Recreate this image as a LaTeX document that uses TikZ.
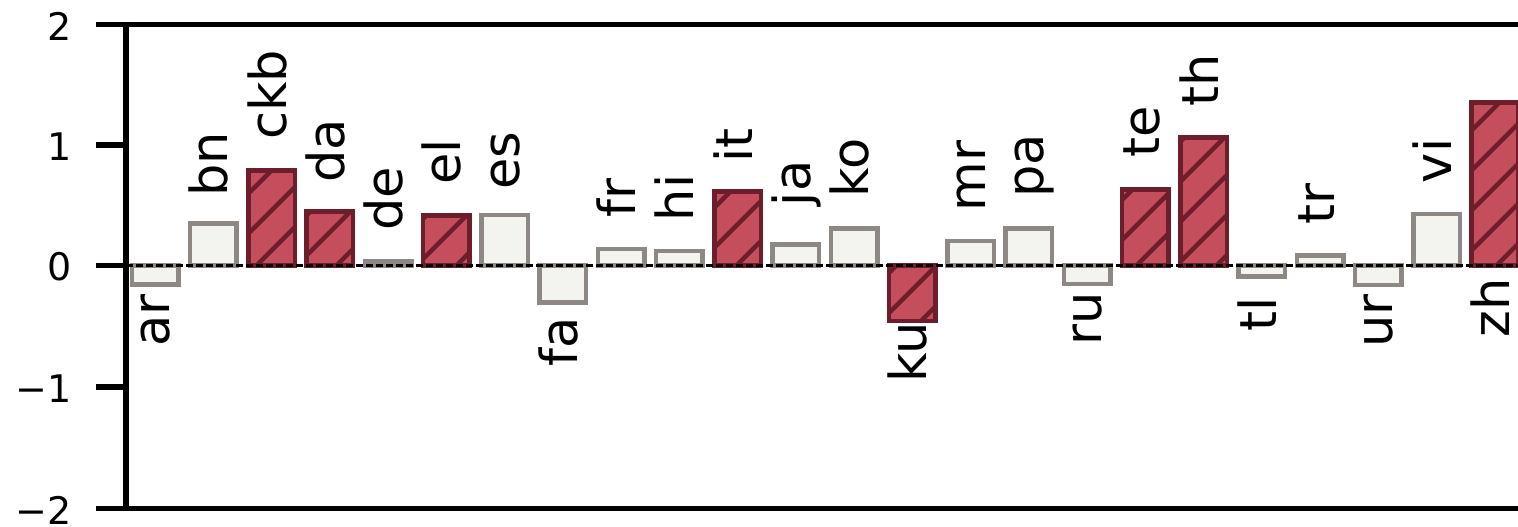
\documentclass[tikz,border=0pt]{standalone}
\usepackage{fontspec}
\setmainfont{DejaVu Sans}
\definecolor{redfill}{HTML}{C44E5C}
\definecolor{redline}{HTML}{6E1E2B}
\definecolor{lightfill}{HTML}{F3F4EF}
\definecolor{lightline}{HTML}{8D8883}
\newcommand\barx[1]{\pgfmathsetmacro\bcx{155+58.26*#1}}
\newcommand\lightbar[2]{\barx{#1}\draw[lightbarsty] (\bcx-23.25,265.5) rectangle (\bcx+23.25,#2);}
\newcommand\redbar[2]{\barx{#1}%
 \fill[redfillsty] (\bcx-23.25,265.5) rectangle (\bcx+23.25,#2);%
 \begin{scope}\clip (\bcx-23.25,265.5) rectangle (\bcx+23.25,#2);%
 \foreach \hc in {2,42,...,1882}{\draw[hatchsty] (\hc,0) -- (\hc-600,600);}%
 \end{scope}%
 \draw[rededgesty] (\bcx-23.25,265.5) rectangle (\bcx+23.25,#2);}
\newcommand\uplabel[3]{\barx{#1}\node[lbl,anchor=base west] (l#2) at (\bcx+14.5,#3) {#2};}
\newcommand\downlabel[3]{\barx{#1}\node[lbl,anchor=base east] (l#2) at (\bcx+14.5,#3) {#2};}
\begin{document}
\begin{tikzpicture}[x=1pt,y=-1pt,
  spine/.style={line width=5.5pt,black},
  lightbarsty/.style={draw=lightline,fill=lightfill,line width=4.5pt},
  redfillsty/.style={fill=redfill},
  hatchsty/.style={draw=redline,line width=4.5pt},
  rededgesty/.style={draw=redline,line width=4.5pt},
  zeroline/.style={black,line width=3.5pt,dash pattern=on 7pt off 3pt},
  lbl/.style={rotate=90,inner sep=0pt,font=\fontsize{51}{51}\selectfont},
  ticklbl/.style={anchor=east,inner sep=0pt,font=\fontsize{38}{38}\selectfont}]
\useasboundingbox (0,0) rectangle (1518,527);
% bars
\lightbar{0}{284.3}
\lightbar{1}{223.7}
\redbar{2}{170.7}
\redbar{3}{211.7}
\lightbar{4}{261.7}
\redbar{5}{215.7}
\lightbar{6}{215}
\lightbar{7}{302.3}
\lightbar{8}{249}
\lightbar{9}{251}
\redbar{10}{191.7}
\lightbar{11}{244.4}
\lightbar{12}{228.4}
\redbar{13}{321}
\lightbar{14}{241}
\lightbar{15}{228.4}
\lightbar{16}{284}
\redbar{17}{189.4}
\redbar{18}{137.7}
\lightbar{19}{276.6}
\lightbar{20}{255.7}
\lightbar{21}{285}
\lightbar{22}{214}
\redbar{23}{102.4}
% zero line
\coordinate (z0) at (126,265.5);
\coordinate (z1) at (1520,265.5);
\draw[zeroline] (z0) -- (z1);
% axes
\coordinate (sTL) at (125.8,21.75);
\coordinate (sBL) at (125.8,511.25);
\draw[spine] (sTL) -- (sBL);
\draw[spine] (96,24.5) -- (1520,24.5);
\draw[spine] (96,508.5) -- (1520,508.5);
\draw[spine] (96,145) -- (125.8,145);
\draw[spine] (96,265.5) -- (125.8,265.5);
\draw[spine] (96,387) -- (125.8,387);
\node[ticklbl] (t2) at (72,26) {2};
\node[ticklbl] (t1) at (72,146.5) {1};
\node[ticklbl] (t0) at (72,267) {0};
\node[ticklbl] (tm1) at (72,388.5) {−1};
\node[ticklbl] (tm2) at (72,510) {−2};
% labels
\downlabel{0}{ar}{294.5}
\uplabel{1}{bn}{196.6}
\uplabel{2}{ckb}{139.8}
\uplabel{3}{da}{182.9}
\uplabel{4}{de}{230.9}
\uplabel{5}{el}{184.9}
\uplabel{6}{es}{189.6}
\downlabel{7}{fa}{317}
\uplabel{8}{fr}{217.9}
\uplabel{9}{hi}{221.3}
\uplabel{10}{it}{163.1}
\uplabel{11}{ja}{206.3}
\uplabel{12}{ko}{197.9}
\downlabel{13}{ku}{322.1}
\uplabel{14}{mr}{211.3}
\uplabel{15}{pa}{197.9}
\downlabel{16}{ru}{292.1}
\uplabel{17}{te}{158.1}
\uplabel{18}{th}{106.4}
\downlabel{19}{tl}{297.1}
\uplabel{20}{tr}{224.4}
\downlabel{21}{ur}{294.5}
\uplabel{22}{vi}{183.2}
\downlabel{23}{zh}{278.4}
\end{tikzpicture}
\end{document}
